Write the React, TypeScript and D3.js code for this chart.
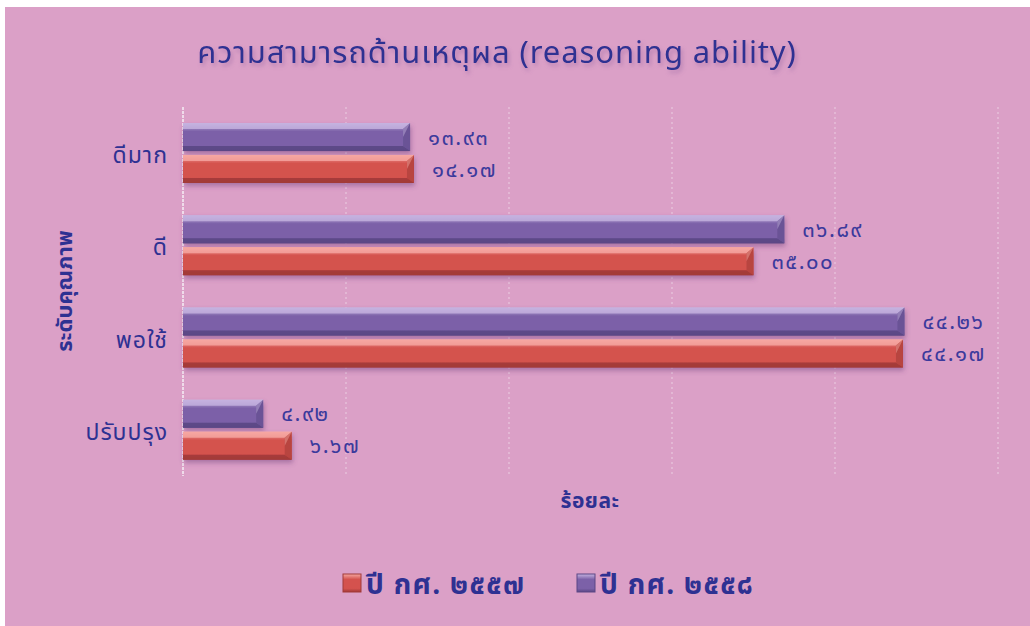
import React from 'react';
import * as d3 from 'd3';

// categories (top to bottom) and the two school years
const categories = ['ดีมาก', 'ดี', 'พอใช้', 'ปรับปรุง'];
const year2558 = [13.93, 36.89, 44.26, 4.92];
const year2557 = [14.17, 35.0, 44.17, 6.67];
const seriesNames = ['ปี กศ. ๒๕๕๗', 'ปี กศ. ๒๕๕๘'];
const xTicks = [0, 10, 20, 30, 40, 50];

const W = 1030;
const H = 626;
const INK = '#2E3192';

const thaiDigits = (s: string) => s.replace(/[0-9]/g, (d) => '๐๑๒๓๔๕๖๗๘๙'[+d]);

const palette: Record<string, { hi: string; mid: string; lo: string; side: string }> = {
  p: { hi: '#c6b3e0', mid: '#7c61a8', lo: '#5b4785', side: '#6a5396' },
  r: { hi: '#f6a8a2', mid: '#d4524e', lo: '#a23a38', side: '#b8443f' },
};

function Bar({ x, y, w, h, c }: { x: number; y: number; w: number; h: number; c: string }) {
  const col = palette[c];
  const b = 7; // bevel depth
  return (
    <g transform={`translate(${x},${y})`} filter="url(#shadow)">
      <rect width={w} height={h} fill={`url(#grad-${c})`} />
      <polygon points={`0,0 ${w},0 ${w - b},${b - 1} 0,${b - 1}`} fill={col.hi} opacity={0.8} />
      <polygon points={`0,${h} ${w},${h} ${w - b},${h - b + 2} 0,${h - b + 2}`} fill={col.lo} opacity={0.9} />
      <polygon points={`${w},0 ${w},${h} ${w - b},${h - b + 2} ${w - b},${b - 1}`} fill={col.side} />
      <polygon points={`${w},0 ${w - b},${b - 1} ${w - b},${h / 2}`} fill={col.hi} opacity={0.45} />
    </g>
  );
}

export default function App() {
  const x = d3.scaleLinear().domain([0, 50]).range([183, 998]);
  const y = d3.scaleBand<string>().domain(categories).range([107, 476]);
  const inner = d3.scaleBand<string>().domain(['2558', '2557']).range([16, 76]).paddingInner(0.12);
  const font = "'Noto Sans Thai', 'Noto Sans', Tahoma, sans-serif";

  const rows = categories.flatMap((cat, i) => [
    { cat, key: '2558', v: year2558[i], c: 'p' },
    { cat, key: '2557', v: year2557[i], c: 'r' },
  ]);

  return (
    <svg width={W} height={H} style={{ position: 'fixed', left: 0, top: 0, background: '#fff' }} fontFamily={font}>
      <defs>
        {Object.keys(palette).map((k) => (
          <linearGradient key={k} id={`grad-${k}`} x1="0" y1="0" x2="0" y2="1">
            <stop offset="0%" stopColor={palette[k].hi} />
            <stop offset="30%" stopColor={palette[k].mid} />
            <stop offset="80%" stopColor={palette[k].mid} />
            <stop offset="100%" stopColor={palette[k].lo} />
          </linearGradient>
        ))}
        <filter id="shadow" x="-5%" y="-30%" width="115%" height="190%">
          <feDropShadow dx="1" dy="3" stdDeviation="2.5" floodColor="#6a3a78" floodOpacity="0.45" />
        </filter>
        <filter id="tshadow" x="-5%" y="-30%" width="110%" height="170%">
          <feDropShadow dx="2" dy="3" stdDeviation="2" floodColor="#8a5a9a" floodOpacity="0.45" />
        </filter>
      </defs>
      <rect x={5} y={7} width={W - 5} height={H - 7} fill="#dba0c7" />

      <text x={497} y={63} textAnchor="middle" fontSize={31} letterSpacing={0.9} fill={INK} filter="url(#tshadow)">
        ความสามารถด้านเหตุผล (reasoning ability)
      </text>

      {/* grid */}
      {xTicks.map((t) => (
        <line key={t} x1={x(t)} x2={x(t)} y1={107} y2={476} stroke="#f2e2ee" strokeWidth={t === 0 ? 2 : 1}
          strokeDasharray={t === 0 ? '3,1' : '2,3'} opacity={t === 0 ? 0.9 : 0.7} />
      ))}

      {/* bars */}
      {rows.map((d) => {
        const yy = (y(d.cat) as number) + (inner(d.key) as number);
        return (
          <g key={d.cat + d.key}>
            <Bar x={x(0)} y={yy} w={x(d.v) - x(0)} h={inner.bandwidth()} c={d.c} />
            <text x={x(d.v) + 18} y={yy + inner.bandwidth() / 2} dy="0.35em" fontSize={22} letterSpacing={1.5} fill="#3b3a9c">
              {thaiDigits(d.v.toFixed(2))}
            </text>
          </g>
        );
      })}

      {/* category labels */}
      {categories.map((c) => (
        <text key={c} x={168} y={(y(c) as number) + y.bandwidth() / 2 + 2} dy="0.35em" textAnchor="end" fontSize={23} letterSpacing={1} fill={INK}>
          {c}
        </text>
      ))}

      <text transform={`translate(64,291) rotate(-90)`} textAnchor="middle" dy="0.35em" fontSize={22} fontWeight="bold" fill={INK}>
        ระดับคุณภาพ
      </text>
      <text x={590} y={501} textAnchor="middle" dy="0.35em" fontSize={21} fontWeight="bold" letterSpacing={0.5} fill={INK}>
        ร้อยละ
      </text>

      {/* legend */}
      {seriesNames.map((s, i) => {
        const lx = 343 + i * 234;
        const c = i === 0 ? 'r' : 'p';
        return (
          <g key={s} transform={`translate(${lx},574)`}>
            <rect width={18} height={18} fill={`url(#grad-${c})`} stroke={palette[c].lo} strokeWidth={1} />
            <text x={23} y={9} dy="0.38em" fontSize={28} fontWeight="bold" letterSpacing={1.3} fill={INK}>{s}</text>
          </g>
        );
      })}
    </svg>
  );
}
